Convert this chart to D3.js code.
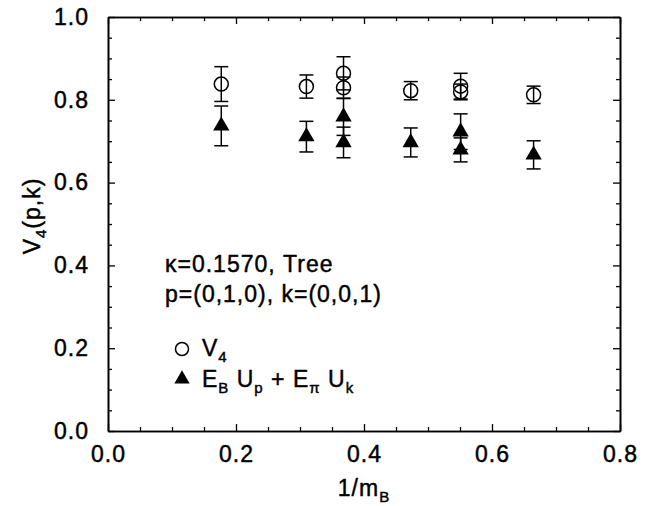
<!DOCTYPE html>
<html>
<head>
<meta charset="utf-8">
<script src="https://cdn.jsdelivr.net/npm/d3@7"></script>
<style>
  body { margin: 0; background: white; }
  text { font-family: "Liberation Sans", Arial, Helvetica, sans-serif; fill: black; stroke: black; stroke-width: 0.45px; }
</style>
</head>
<body>
<svg id="chart" width="664" height="506"></svg>
<script>
// 1/m_B positions of the data points
const xVals = [0.177, 0.310, 0.368, 0.368, 0.473, 0.551, 0.551, 0.665];
// V4 (open circles)
const v4 = [0.838, 0.832, 0.864, 0.829, 0.822, 0.833, 0.819, 0.812];
const v4Err = [0.042, 0.028, 0.040, 0.026, 0.022, 0.031, 0.019, 0.021];
// E_B U_p + E_pi U_k (filled triangles)
const eu = [0.737, 0.711, 0.759, 0.697, 0.697, 0.723, 0.679, 0.667];
const euErr = [0.048, 0.037, 0.045, 0.037, 0.035, 0.043, 0.029, 0.034];

const xMajor = [0.0, 0.2, 0.4, 0.6, 0.8];
const yMajor = [0.0, 0.2, 0.4, 0.6, 0.8, 1.0];
const minorStep = 0.05;

window.addEventListener("load", main);

function main()
{
    const svg = d3.select("svg#chart");
    const left = 108, right = 620, top = 17, bottom = 431;
    const fs = "23px", sub = "15px", ls = "1px";

    const x = d3.scaleLinear().domain([0, 0.8]).range([left, right]);
    const y = d3.scaleLinear().domain([0, 1]).range([bottom, top]);

    const xMinor = d3.range(0, 0.8001, minorStep).filter(v => !xMajor.some(m => Math.abs(m - v) < 1e-6));
    const yMinor = d3.range(0, 1.0001, minorStep).filter(v => !yMajor.some(m => Math.abs(m - v) < 1e-6));
    const fmt = d3.format(".1f");

    // axes with inward ticks on all four sides
    const g = svg.append("g").attr("class", "axes");
    g.append("g").attr("transform", `translate(0,${bottom})`)
        .call(d3.axisBottom(x).tickValues(xMajor).tickSize(-7).tickSizeOuter(0).tickPadding(15).tickFormat(fmt));
    g.append("g").attr("transform", `translate(0,${bottom})`)
        .call(d3.axisBottom(x).tickValues(xMinor).tickSize(-4).tickSizeOuter(0).tickFormat(""));
    g.append("g").attr("transform", `translate(0,${top})`)
        .call(d3.axisTop(x).tickValues(xMajor).tickSize(-7).tickSizeOuter(0).tickFormat(""));
    g.append("g").attr("transform", `translate(0,${top})`)
        .call(d3.axisTop(x).tickValues(xMinor).tickSize(-4).tickSizeOuter(0).tickFormat(""));
    g.append("g").attr("transform", `translate(${left},0)`)
        .call(d3.axisLeft(y).tickValues(yMajor).tickSize(-7).tickSizeOuter(0).tickPadding(19).tickFormat(fmt));
    g.append("g").attr("transform", `translate(${left},0)`)
        .call(d3.axisLeft(y).tickValues(yMinor).tickSize(-4).tickSizeOuter(0).tickFormat(""));
    g.append("g").attr("transform", `translate(${right},0)`)
        .call(d3.axisRight(y).tickValues(yMajor).tickSize(-7).tickSizeOuter(0).tickFormat(""));
    g.append("g").attr("transform", `translate(${right},0)`)
        .call(d3.axisRight(y).tickValues(yMinor).tickSize(-4).tickSizeOuter(0).tickFormat(""));

    g.selectAll("path.domain").attr("stroke", "black").attr("stroke-width", 1.6);
    g.selectAll(".tick line").attr("stroke", "black").attr("stroke-width", 1.3);
    g.selectAll(".tick text")
        .attr("font-size", fs)
        .attr("letter-spacing", ls)
        .attr("fill", "black")
        .style("font-family", "'Liberation Sans', Arial, Helvetica, sans-serif");

    // axis titles
    const xt = svg.append("text")
        .attr("x", (left + right) / 2).attr("y", 496)
        .attr("text-anchor", "middle").attr("font-size", fs).attr("letter-spacing", ls);
    xt.append("tspan").text("1/m");
    xt.append("tspan").attr("font-size", sub).attr("dy", 6).text("B");

    const yt = svg.append("text")
        .attr("transform", "translate(40,216) rotate(-90)")
        .attr("text-anchor", "middle").attr("font-size", fs).attr("letter-spacing", ls);
    yt.append("tspan").text("V");
    yt.append("tspan").attr("font-size", sub).attr("dy", 6).text("4");
    yt.append("tspan").attr("dy", -6).text("(p,k)");

    // error bars and markers
    const capW = 7;
    function errorBars(vals, errs, cls)
    {
        const eg = svg.append("g").attr("class", cls);
        const idx = d3.range(vals.length);
        eg.selectAll("line.bar").data(idx).join("line")
            .attr("x1", i => x(xVals[i])).attr("x2", i => x(xVals[i]))
            .attr("y1", i => y(vals[i] + errs[i])).attr("y2", i => y(vals[i] - errs[i]))
            .attr("stroke", "black").attr("stroke-width", 1.5);
        eg.selectAll("line.capHi").data(idx).join("line")
            .attr("x1", i => x(xVals[i]) - capW).attr("x2", i => x(xVals[i]) + capW)
            .attr("y1", i => y(vals[i] + errs[i])).attr("y2", i => y(vals[i] + errs[i]))
            .attr("stroke", "black").attr("stroke-width", 1.5);
        eg.selectAll("line.capLo").data(idx).join("line")
            .attr("x1", i => x(xVals[i]) - capW).attr("x2", i => x(xVals[i]) + capW)
            .attr("y1", i => y(vals[i] - errs[i])).attr("y2", i => y(vals[i] - errs[i]))
            .attr("stroke", "black").attr("stroke-width", 1.5);
        return eg;
    }

    const cg = errorBars(v4, v4Err, "v4");
    cg.selectAll("circle").data(d3.range(v4.length)).join("circle")
        .attr("cx", i => x(xVals[i])).attr("cy", i => y(v4[i])).attr("r", 7)
        .attr("fill", "none").attr("stroke", "black").attr("stroke-width", 1.5);

    const tri = d3.symbol(d3.symbolTriangle, 115);
    const tg = errorBars(eu, euErr, "eu");
    tg.selectAll("path.tri").data(d3.range(eu.length)).join("path")
        .attr("class", "tri")
        .attr("d", tri)
        .attr("transform", i => `translate(${x(xVals[i])},${y(eu[i])})`)
        .attr("fill", "black");

    // annotation
    svg.append("text").attr("x", 165).attr("y", 272)
        .attr("font-size", fs).attr("letter-spacing", ls).text("\u03ba=0.1570, Tree");
    svg.append("text").attr("x", 165).attr("y", 302)
        .attr("font-size", fs).attr("letter-spacing", ls).text("p=(0,1,0), k=(0,0,1)");

    // legend
    svg.append("circle").attr("cx", 182).attr("cy", 349).attr("r", 6.5)
        .attr("fill", "none").attr("stroke", "black").attr("stroke-width", 1.5);
    const l1 = svg.append("text").attr("x", 202).attr("y", 356)
        .attr("font-size", fs).attr("letter-spacing", ls);
    l1.append("tspan").text("V");
    l1.append("tspan").attr("font-size", sub).attr("dy", 6).text("4");

    svg.append("path").attr("d", d3.symbol(d3.symbolTriangle, 100))
        .attr("transform", "translate(182,379)").attr("fill", "black");
    const l2 = svg.append("text").attr("x", 202).attr("y", 387)
        .attr("font-size", fs).attr("letter-spacing", ls);
    l2.append("tspan").text("E");
    l2.append("tspan").attr("font-size", sub).attr("dy", 6).text("B");
    l2.append("tspan").attr("dy", -6).text(" U");
    l2.append("tspan").attr("font-size", sub).attr("dy", 6).text("p");
    l2.append("tspan").attr("dy", -6).text(" + E");
    l2.append("tspan").attr("font-size", sub).attr("dy", 6).text("\u03c0");
    l2.append("tspan").attr("dy", -6).text(" U");
    l2.append("tspan").attr("font-size", sub).attr("dy", 6).text("k");
}
</script>
</body>
</html>
